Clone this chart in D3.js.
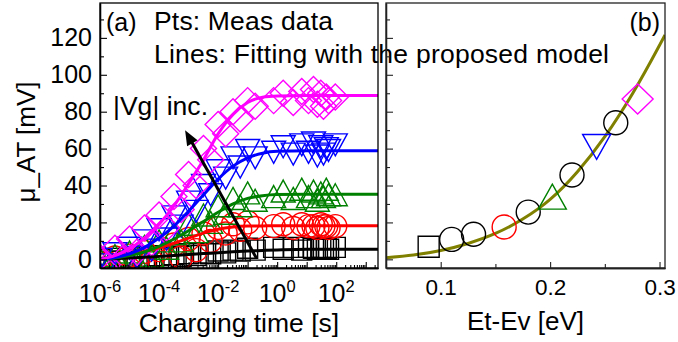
<!DOCTYPE html>
<html><head><meta charset="utf-8">
<script src="https://cdn.jsdelivr.net/npm/d3@7"></script>
<style>
body{margin:0;background:#fff}
svg{display:block}
text{font-family:"Liberation Sans",Arial,sans-serif;fill:#000}
</style>
</head><body>
<svg id="c" width="678" height="342"></svg>
<script>
// ---------------- DATA ----------------
// Panel (a): measured threshold shift vs charging time (5 |Vg| levels)
const seriesNames = ["Vg1", "Vg2", "Vg3", "Vg4", "Vg5"];
const chargeTime = [1e-6, 1.8e-6, 3.2e-6, 5.6e-6, 1e-5, 1.8e-5, 3.2e-5, 5.6e-5, 1e-4, 1.8e-4,
  3.2e-4, 5.6e-4, 1e-3, 1.8e-3, 3.2e-3, 5.6e-3, 0.01, 0.018, 0.032, 0.056, 0.1, 0.18,
  0.76, 1.6, 3.5, 6.8, 11.5, 17, 23, 30, 37, 46, 55, 93];
const measVg1 = [0, -1, 0.5, -1, 1, 0, 1.5, 0.5, 2, 1, 2.5, 1.5, 3, 2, 3.5, 3, 4.5, 3.5, 5, 4.5, 6, 5,
  6.5, 5.5, 6.5, 5, 6.5, 6, 5.5, 6.5, 5.5, 6, 5.5, 6.5];
const measVg2 = [0, -2, 1, -3, 2, -2, 4, -1, 5, -1, 8, 1, 11, 5, 14, 10, 17, 14, 19, 16, 20, 17,
  18, 19, 17, 19, 18, 18, 17, 19, 18, 18, 17, 18];
const measVg3 = [0, -4, 2, -3, 4, -1, 7, 2, 10, 6, 14, 10, 19, 15, 24, 20, 29, 25, 33, 29, 36, 32,
  34, 37, 33, 38, 34, 37, 32, 36, 34, 38, 35, 35];
const measVg4 = [0, -3, 3, -4, 6, 1, 10, 5, 16, 11, 23, 18, 31, 26, 40, 35, 48, 44, 55, 50, 59, 55,
  58, 61, 57, 62, 58, 63, 56, 61, 57, 60, 59, 62];
const measVg5 = [1, -3, 6, 0, 11, 4, 17, 9, 24, 17, 34, 27, 46, 40, 60, 54, 73, 68, 80, 76, 86, 83,
  86, 90, 85, 91, 86, 92, 84, 90, 83, 88, 86, 88];
// fitted lines (proposed model)
const fitTime = [1e-6, 3.2e-6, 1e-5, 3.2e-5, 1e-4, 3.2e-4, 1e-3, 3.2e-3, 0.01, 0.032, 0.1, 0.32, 1, 10, 100, 2600];
const fitVg1 = [0, 0.3, 0.7, 1.1, 1.6, 2.1, 2.6, 3.1, 3.6, 4.1, 4.5, 4.8, 5.1, 5.4, 5.5, 5.5];
const fitVg2 = [0, 1, 2.5, 4.2, 6.2, 8.7, 11.5, 14.2, 16.3, 17.5, 18, 18.1, 18.2, 18.2, 18.2, 18.2];
const fitVg3 = [0, 0.7, 2, 4, 7, 11, 15.5, 20.5, 25.5, 30, 33, 34.5, 35.1, 35.3, 35.3, 35.3];
const fitVg4 = [0, 1, 3, 6.5, 11.5, 18, 26, 35, 43.5, 50.5, 55, 57.5, 58.5, 58.8, 58.8, 58.8];
const fitVg5 = [0, 2, 5.8, 11.5, 19, 29, 41, 54, 68, 78.5, 85, 87.8, 88.5, 88.8, 88.8, 88.8];
// Panel (b): saturation value vs trap energy level
const vgEnergy = [0.089, 0.158, 0.202, 0.2425, 0.280];
const vgValue = [6.8, 17.5, 34.0, 60.9, 86.9];
const extraEnergy = [0.110, 0.130, 0.180, 0.220, 0.260];
const extraValue = [10.8, 13.6, 25.6, 45.7, 74.0];
const modelEnergy = [0.05, 0.075, 0.1, 0.125, 0.15, 0.175, 0.2, 0.225, 0.25, 0.275, 0.3, 0.305];
const modelValue = [0.9, 2.3, 4.8, 8.6, 14.0, 21.8, 32.5, 47.5, 66.5, 89.5, 116, 121.6];
// ticks
const yTickValues = [0, 20, 40, 60, 80, 100, 120];
const xTickExponents = [-6, -4, -2, 0, 2];
const bTickValues = [0.1, 0.2, 0.3];

// ---------------- STYLE ----------------
const colors = ["#000000", "#ff0000", "#008000", "#0000ff", "#ff00ff"];
const shapes = ["square", "circle", "up", "down", "diamond"];
const measAll = [measVg1, measVg2, measVg3, measVg4, measVg5];
const fitAll = [fitVg1, fitVg2, fitVg3, fitVg4, fitVg5];

const svg = d3.select("#c");
const A = {l: 100, r: 378, t: 3, b: 268};
const B = {l: 386, r: 665, t: 3, b: 268};
const xA = d3.scaleLog().domain([1e-6, 2600]).range([A.l, A.r]);
const xB = d3.scaleLinear().domain([0.05, 0.305]).range([B.l, B.r]);
const y = d3.scaleLinear().domain([-4.7, 138.9]).range([A.b, A.t]);

const defs = svg.append("defs");
[["clipA", A], ["clipB", B]].forEach(([id, P]) => {
  defs.append("clipPath").attr("id", id).append("rect")
    .attr("x", P.l).attr("y", P.t).attr("width", P.r - P.l).attr("height", P.b - P.t);
});

function symPath(shape, w, h) {
  const a = w / 2, b = h / 2;
  switch (shape) {
    case "square": return `M${-a},${-b}H${a}V${b}H${-a}Z`;
    case "circle": return `M${a},0A${a},${b} 0 1,1 ${-a},0A${a},${b} 0 1,1 ${a},0Z`;
    case "up": return `M0,${-b}L${a},${b}L${-a},${b}Z`;
    case "down": return `M0,${b}L${a},${-b}L${-a},${-b}Z`;
    case "diamond": return `M0,${-b}L${a},0L0,${b}L${-a},0Z`;
  }
}
const sizeA = {square: [20, 20], circle: [23, 23], up: [24, 22], down: [24, 22], diamond: [26, 26]};
const sizeB = {square: [21, 21], circle: [24, 24], up: [28, 25], down: [28, 25], diamond: [31, 30]};

// ---------------- PANEL A ----------------
const gA = svg.append("g").attr("clip-path", "url(#clipA)");
measAll.forEach((vals, i) => {
  const sz = sizeA[shapes[i]];
  gA.append("g").selectAll("path").data(chargeTime.map((t, j) => [t, vals[j]])).join("path")
    .attr("transform", d => `translate(${xA(d[0])},${y(d[1])})`)
    .attr("d", symPath(shapes[i], sz[0], sz[1]))
    .attr("fill", "none").attr("stroke", colors[i]).attr("stroke-width", 1.4);
});
const lineA = d3.line().x(d => xA(d[0])).y(d => y(d[1])).curve(d3.curveMonotoneX);
fitAll.forEach((vals, i) => {
  gA.append("path").datum(fitTime.map((t, j) => [t, vals[j]]))
    .attr("d", lineA).attr("fill", "none").attr("stroke", colors[i]).attr("stroke-width", 3);
});

// axes A
const axA = svg.append("g");
axA.append("g").attr("transform", `translate(0,${A.b})`)
  .call(d3.axisBottom(xA).tickValues(d3.range(-6, 4).map(e => Math.pow(10, e)).filter(v => v <= 2600))
    .tickSizeInner(-6).tickSizeOuter(0).tickFormat(() => ""));
const minorA = [];
for (let e = -6; e <= 3; e++) for (let m = 2; m <= 9; m++) { const v = m * Math.pow(10, e); if (v < 2600) minorA.push(v); }
axA.append("g").attr("transform", `translate(0,${A.b})`)
  .call(d3.axisBottom(xA).tickValues(minorA).tickSizeInner(-3).tickSizeOuter(0).tickFormat(() => ""));
axA.append("g").attr("transform", `translate(${A.l},0)`)
  .call(d3.axisLeft(y).tickValues(yTickValues).tickSizeInner(-7).tickSizeOuter(0).tickPadding(8))
  .selectAll("text").style("font-size", "25px");
axA.append("g").attr("transform", `translate(${A.l},0)`)
  .call(d3.axisLeft(y).tickValues([10, 30, 50, 70, 90, 110, 130]).tickSizeInner(-4).tickSizeOuter(0).tickFormat(() => ""));
axA.selectAll(".domain").attr("stroke", "#000").attr("stroke-width", 1.3);
axA.selectAll(".tick line").attr("stroke", "#000").attr("stroke-width", 1.1);
// exponent labels
const xl = svg.append("g");
xTickExponents.forEach(e => {
  const t = xl.append("text").attr("x", xA(Math.pow(10, e))).attr("y", 301.5)
    .attr("text-anchor", "middle").style("font-size", "25px");
  t.append("tspan").text("10");
  t.append("tspan").attr("dy", -10).style("font-size", "16.5px").text(e < 0 ? "-" + (-e) : String(e));
});
svg.append("rect").attr("x", A.l).attr("y", A.t).attr("width", A.r - A.l).attr("height", A.b - A.t)
  .attr("fill", "none").attr("stroke", "#000").attr("stroke-width", 1.3);

// arrow |Vg| inc.
{
  const x0 = xA(0.2), y0 = y(0.55), x1 = xA(7.6e-4), y1 = y(70);
  const dx = x1 - x0, dy = y1 - y0, L = Math.hypot(dx, dy), ux = dx / L, uy = dy / L;
  const hl = 15, hw = 6;
  const bx = x1 - ux * hl, by = y1 - uy * hl;
  svg.append("line").attr("x1", x0).attr("y1", y0).attr("x2", bx + ux * 2).attr("y2", by + uy * 2)
    .attr("stroke", "#000").attr("stroke-width", 3);
  svg.append("path").attr("d", `M${x1},${y1}L${bx - uy * hw},${by + ux * hw}L${bx + uy * hw},${by - ux * hw}Z`)
    .attr("fill", "#000");
}

// texts A
svg.append("text").attr("x", 106).attr("y", 31).style("font-size", "25px").text("(a)");
svg.append("text").attr("x", 154).attr("y", 30).style("font-size", "26.5px")
  .attr("textLength", 179).attr("lengthAdjust", "spacing").text("Pts: Meas data");
svg.append("text").attr("x", 154).attr("y", 63).style("font-size", "26.5px")
  .attr("textLength", 455).attr("lengthAdjust", "spacing").text("Lines: Fitting with the proposed model");
svg.append("text").attr("x", 113).attr("y", 115).style("font-size", "26.5px")
  .attr("textLength", 95).attr("lengthAdjust", "spacing").text("|Vg| inc.");
svg.append("text").attr("transform", "translate(35,142) rotate(-90)").attr("text-anchor", "middle")
  .style("font-size", "26px").text("\u03bc_AT [mV]");
svg.append("text").attr("x", (A.l + A.r) / 2).attr("y", 332).attr("text-anchor", "middle")
  .style("font-size", "26.5px").text("Charging time [s]");

// ---------------- PANEL B ----------------
const gB = svg.append("g").attr("clip-path", "url(#clipB)");
const lineB = d3.line().x(d => xB(d[0])).y(d => y(d[1])).curve(d3.curveMonotoneX);
gB.append("path").datum(modelEnergy.map((e, j) => [e, modelValue[j]]))
  .attr("d", lineB).attr("fill", "none").attr("stroke", "#808000").attr("stroke-width", 3);
gB.append("g").selectAll("path").data(extraEnergy.map((e, j) => [e, extraValue[j]])).join("path")
  .attr("transform", d => `translate(${xB(d[0])},${y(d[1])})`)
  .attr("d", symPath("circle", sizeB.circle[0], sizeB.circle[1]))
  .attr("fill", "none").attr("stroke", "#000").attr("stroke-width", 1.4);
vgEnergy.forEach((e, i) => {
  const sz = sizeB[shapes[i]];
  gB.append("path").attr("transform", `translate(${xB(e)},${y(vgValue[i])})`)
    .attr("d", symPath(shapes[i], sz[0], sz[1]))
    .attr("fill", "none").attr("stroke", colors[i]).attr("stroke-width", 1.4);
});

const axB = svg.append("g");
axB.append("g").attr("transform", `translate(0,${B.b})`)
  .call(d3.axisBottom(xB).tickValues(bTickValues).tickSizeInner(-6).tickSizeOuter(0).tickPadding(8).tickFormat(d3.format(".1f")))
  .selectAll("text").style("font-size", "22.5px").attr("dy", null).attr("y", 27);
axB.append("g").attr("transform", `translate(0,${B.b})`)
  .call(d3.axisBottom(xB).tickValues([0.05, 0.15, 0.25]).tickSizeInner(-4).tickSizeOuter(0).tickFormat(() => ""));
axB.append("g").attr("transform", `translate(${B.l},0)`)
  .call(d3.axisLeft(y).tickValues(yTickValues).tickSizeInner(-7).tickSizeOuter(0).tickFormat(() => ""));
axB.append("g").attr("transform", `translate(${B.l},0)`)
  .call(d3.axisLeft(y).tickValues([10, 30, 50, 70, 90, 110, 130]).tickSizeInner(-4).tickSizeOuter(0).tickFormat(() => ""));
axB.selectAll(".domain").attr("stroke", "#222").attr("stroke-width", 1.3);
axB.selectAll(".tick line").attr("stroke", "#222").attr("stroke-width", 1.1);
svg.append("rect").attr("x", B.l).attr("y", B.t).attr("width", B.r - B.l).attr("height", B.b - B.t)
  .attr("fill", "none").attr("stroke", "#222").attr("stroke-width", 1.3);

svg.append("text").attr("x", 660).attr("y", 31).attr("text-anchor", "end").style("font-size", "25px").text("(b)");
svg.append("text").attr("x", (B.l + B.r) / 2).attr("y", 330).attr("text-anchor", "middle")
  .style("font-size", "26px").text("Et-Ev [eV]");
</script>
</body></html>
